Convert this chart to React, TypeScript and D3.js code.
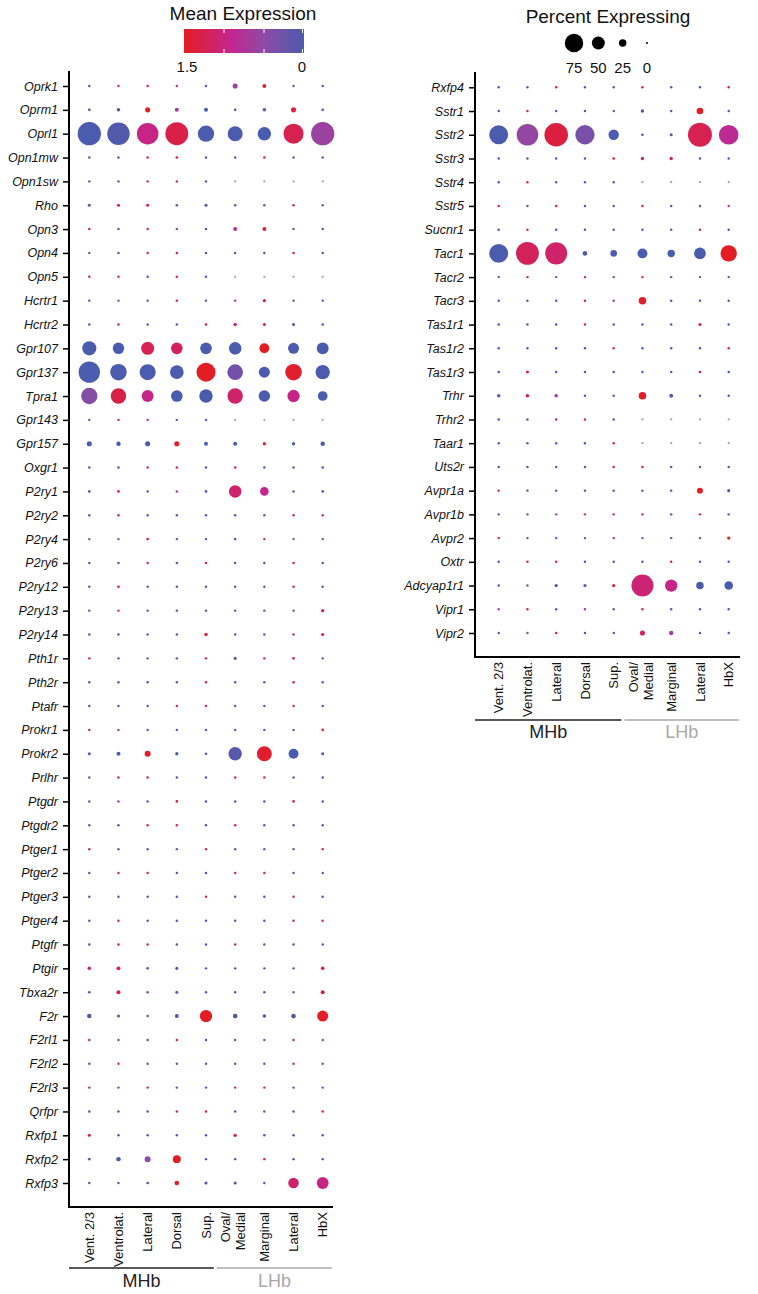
import React, { useEffect, useRef } from 'react';
import * as d3 from 'd3';

// clusters (columns), shared by both panels
const clusterIds = ['v23', 'vl', 'lat', 'dor', 'sup', 'om', 'mar', 'llat', 'hbx'];
const clusterLabels = ['Vent. 2/3', 'Ventrolat.', 'Lateral', 'Dorsal', 'Sup.', 'Oval/\nMedial', 'Marginal', 'Lateral', 'HbX'];
const groupNames = ['MHb', 'LHb'];
const groupColors = ['#222222', '#a8a8a8'];

const genesLeft = [
  'Oprk1', 'Oprm1', 'Oprl1', 'Opn1mw', 'Opn1sw', 'Rho', 'Opn3', 'Opn4', 'Opn5', 'Hcrtr1', 'Hcrtr2',
  'Gpr107', 'Gpr137', 'Tpra1', 'Gpr143', 'Gpr157', 'Oxgr1', 'P2ry1', 'P2ry2', 'P2ry4', 'P2ry6',
  'P2ry12', 'P2ry13', 'P2ry14', 'Pth1r', 'Pth2r', 'Ptafr', 'Prokr1', 'Prokr2', 'Prlhr', 'Ptgdr',
  'Ptgdr2', 'Ptger1', 'Ptger2', 'Ptger3', 'Ptger4', 'Ptgfr', 'Ptgir', 'Tbxa2r', 'F2r', 'F2rl1',
  'F2rl2', 'F2rl3', 'Qrfpr', 'Rxfp1', 'Rxfp2', 'Rxfp3',
];

// percent of cells expressing, one row per gene
const pctLeft = [
  [2, 2, 2, 2, 2, 14, 9, 2, 2],
  [3, 7, 14, 9, 9, 3, 7, 14, 3],
  [97, 93, 89, 95, 65, 59, 52, 82, 97],
  [2, 2, 2, 3, 2, 2, 2, 2, 2],
  [2, 2, 2, 2, 2, 1, 1, 1, 1],
  [5, 5, 5, 3, 5, 2, 2, 2, 2],
  [2, 2, 2, 2, 2, 9, 9, 2, 2],
  [2, 2, 2, 2, 2, 2, 2, 2, 2],
  [2, 2, 2, 2, 2, 1, 1, 1, 1],
  [2, 2, 2, 2, 2, 2, 5, 2, 2],
  [2, 2, 2, 2, 3, 7, 5, 5, 2],
  [55, 43, 50, 44, 44, 48, 36, 41, 45],
  [88, 66, 64, 53, 77, 62, 41, 66, 56],
  [65, 61, 45, 44, 52, 61, 43, 47, 35],
  [2, 2, 2, 2, 2, 1, 1, 1, 1],
  [14, 11, 14, 14, 9, 9, 6, 6, 11],
  [2, 2, 2, 2, 2, 2, 2, 2, 2],
  [3, 3, 2, 2, 3, 48, 30, 2, 3],
  [2, 2, 2, 2, 2, 2, 2, 2, 2],
  [2, 2, 3, 2, 2, 3, 2, 2, 2],
  [2, 2, 2, 2, 2, 2, 2, 2, 2],
  [2, 3, 2, 2, 2, 2, 2, 2, 2],
  [2, 2, 2, 2, 2, 2, 2, 2, 6],
  [2, 2, 2, 2, 7, 2, 2, 2, 5],
  [2, 2, 2, 2, 2, 5, 2, 3, 2],
  [2, 2, 2, 2, 2, 2, 2, 2, 2],
  [2, 2, 2, 2, 2, 2, 2, 2, 2],
  [2, 2, 2, 2, 2, 2, 2, 2, 3],
  [5, 9, 18, 6, 3, 52, 59, 36, 5],
  [2, 2, 2, 2, 2, 2, 2, 2, 2],
  [2, 2, 2, 3, 2, 2, 2, 3, 2],
  [2, 2, 2, 2, 2, 2, 2, 2, 2],
  [2, 2, 2, 2, 2, 2, 2, 2, 2],
  [2, 2, 2, 2, 2, 2, 2, 2, 2],
  [2, 2, 2, 2, 2, 2, 2, 2, 2],
  [2, 2, 2, 2, 2, 2, 2, 2, 2],
  [2, 2, 2, 2, 2, 2, 2, 2, 2],
  [7, 9, 3, 5, 2, 2, 2, 2, 7],
  [3, 9, 3, 5, 2, 2, 2, 2, 9],
  [11, 5, 2, 9, 47, 12, 7, 12, 41],
  [2, 2, 2, 2, 2, 2, 2, 2, 2],
  [2, 2, 2, 2, 2, 2, 2, 2, 2],
  [2, 2, 2, 2, 2, 2, 2, 2, 2],
  [2, 2, 2, 2, 2, 2, 2, 2, 2],
  [5, 2, 2, 2, 2, 6, 2, 2, 2],
  [3, 11, 18, 27, 2, 2, 2, 2, 2],
  [2, 2, 3, 12, 5, 5, 2, 39, 45],
];

// mean expression (null = not detected, drawn grey)
const exprLeft = [
  [0, 1.2, 1.4, 0.8, 0, 0.6, 1.4, 0, 0],
  [0, 0, 1.5, 0.7, 0, 0, 0.1, 1.4, 0],
  [0, 0.05, 0.95, 1.3, 0, 0, 0, 1.25, 0.6],
  [0, 0, 1.3, 1.4, 0, 0, 1.4, 0, 0],
  [0, 0, 1.3, 1.3, 0, null, null, null, null],
  [0.1, 1.4, 1.3, 0, 0, 0, 0, 1.4, 0.3],
  [1.4, 0, 1.3, 0.5, 0, 0.8, 1.4, 0, 0],
  [0.4, 0, 1.3, 1.4, 0, 0, 0, 1.4, 0],
  [1.3, 1.3, 0, 1.4, 0, null, null, null, null],
  [0, 0, 0, 1.4, 0, 0.6, 1.4, 0, 0],
  [0, 1.3, 0, 0, 1.4, 0.9, 1.3, 0, 0],
  [0, 0, 1.25, 1.2, 0, 0, 1.5, 0, 0],
  [0, 0, 0, 0, 1.5, 0.3, 0, 1.45, 0],
  [0.45, 1.3, 0.95, 0, 0, 1.1, 0, 0.95, 0],
  [0, 1.3, 1.0, 0, 0, null, null, null, null],
  [0, 0, 0, 1.5, 0, 0, 1.4, 0, 0],
  [0, 0, 1.3, 1.2, 0, 1.4, 0, 0, 0],
  [0, 1.4, 0, 0.6, 0, 1.1, 0.9, 0, 0],
  [0, 1.3, 0, 0, 0, 0, 0, 1.2, 1.0],
  [0.5, 0, 1.4, 0, 0, 0, 1.3, 0, 0],
  [0, 0, 1.2, 0, 1.3, 0, 0, 1.3, 0],
  [0, 1.4, 0, 0, 0, 0, 0, 1.3, 0],
  [0, 1.3, 0, 0, 0, 0, 0, 0, 1.3],
  [0, 0, 0, 0, 1.4, 0, 0, 0.95, 1.3],
  [1.3, 0, 0, 0, 1.3, 0, 1.0, 1.1, 0],
  [0, 0, 0, 0, 1.3, 0, 0, 1.3, 0],
  [0, 0, 0, 1.3, 1.0, 0, 0, 1.3, 0],
  [1.3, 0.6, 0, 0, 0, 0, 0, 0, 1.4],
  [0, 0, 1.5, 0, 0, 0.1, 1.45, 0, 0],
  [0, 1.3, 1.3, 0, 0, 1.3, 1.2, 0, 0],
  [0, 0.6, 0, 1.4, 0, 0, 0, 1.4, 0],
  [0, 0, 1.3, 1.3, 0, 1.4, 0, 0, 0],
  [1.3, 0, 0, 0, 1.4, 0, 0, 0, 1.3],
  [0, 1.3, 1.3, 0, 0, 1.1, 1.1, 0, 0],
  [0, 0, 0, 0, 1.4, 0, 0, 1.4, 0],
  [0, 1.3, 0, 0, 0, 0, 0, 1.0, 1.0],
  [0, 1.3, 1.3, 0, 0, 1.4, 0, 0, 0],
  [1.0, 1.2, 0, 0, 0, 0, 0, 0, 1.35],
  [0, 1.4, 0.5, 0.3, 0, 0, 0, 0.5, 1.35],
  [0, 0, 0, 0, 1.5, 0, 0, 0, 1.5],
  [1.4, 0, 0, 1.4, 0, 0, 0, 1.3, 0.6],
  [0, 1.3, 0, 0, 0, 0, 0, 1.3, 0.6],
  [1.3, 0, 1.3, 0, 0, 0.9, 1.3, 0, 0],
  [0, 0, 0, 1.0, 1.3, 0, 0, 0, 1.3],
  [1.4, 0, 0, 0, 0, 1.4, 0, 0, 0],
  [0, 0, 0.5, 1.5, 0, 0, 1.3, 0, 0],
  [0, 0, 0, 1.5, 0, 0, 0, 1.1, 0.95],
];

const genesRight = [
  'Rxfp4', 'Sstr1', 'Sstr2', 'Sstr3', 'Sstr4', 'Sstr5', 'Sucnr1', 'Tacr1', 'Tacr2', 'Tacr3',
  'Tas1r1', 'Tas1r2', 'Tas1r3', 'Trhr', 'Trhr2', 'Taar1', 'Uts2r', 'Avpr1a', 'Avpr1b', 'Avpr2',
  'Oxtr', 'Adcyap1r1', 'Vipr1', 'Vipr2',
];

const pctRight = [
  [2, 2, 2, 2, 2, 2, 2, 2, 2],
  [2, 2, 2, 2, 2, 7, 2, 21, 2],
  [77, 89, 98, 79, 38, 3, 5, 100, 80],
  [2, 2, 2, 2, 3, 6, 6, 2, 2],
  [2, 2, 2, 2, 2, 1, 1, 1, 1],
  [2, 2, 2, 2, 2, 2, 2, 2, 2],
  [2, 2, 2, 2, 2, 2, 2, 2, 2],
  [77, 95, 91, 12, 21, 36, 25, 44, 65],
  [2, 2, 2, 2, 2, 2, 2, 2, 2],
  [2, 2, 2, 2, 2, 25, 2, 2, 2],
  [2, 2, 2, 2, 2, 2, 2, 5, 2],
  [2, 2, 2, 2, 2, 2, 2, 2, 2],
  [3, 5, 2, 2, 2, 2, 2, 3, 2],
  [7, 7, 7, 2, 2, 25, 9, 2, 2],
  [2, 2, 2, 2, 2, 1, 1, 1, 1],
  [2, 2, 2, 2, 2, 1, 1, 1, 1],
  [2, 2, 2, 2, 2, 2, 2, 2, 2],
  [2, 2, 2, 2, 2, 2, 2, 18, 5],
  [2, 2, 2, 2, 2, 2, 2, 2, 2],
  [2, 2, 2, 2, 2, 2, 2, 2, 6],
  [2, 2, 2, 2, 2, 2, 2, 2, 2],
  [2, 2, 6, 5, 6, 91, 47, 25, 30],
  [2, 2, 2, 2, 2, 2, 2, 2, 2],
  [2, 2, 2, 2, 2, 14, 11, 2, 2],
];

const exprRight = [
  [0, 0, 1.4, 0, 0, 1.3, 0, 0, 1.3],
  [0, 1.3, 0, 0, 0, 0, 0, 1.5, 0],
  [0, 0.55, 1.35, 0.35, 0, 0, 0, 1.25, 0.85],
  [0, 0, 0, 0, 1.4, 1.0, 1.2, 0, 0],
  [0, 1.3, 0, 0, 0, null, null, null, null],
  [1.3, 0, 1.3, 0, 0, 1.3, 0, 0, 0.6],
  [0, 1.3, 0, 0, 0, 0, 0, 1.3, 0],
  [0, 1.2, 1.1, 0, 0, 0, 0, 0, 1.5],
  [0, 1.3, 0, 1.2, 0, 1.3, 0, 0, 0],
  [0, 0, 0, 1.3, 0.6, 1.5, 0, 0, 0],
  [0, 0, 0, 1.3, 0, 0, 0, 1.4, 0],
  [0, 0, 0, 0, 1.3, 0, 0, 0, 1.3],
  [0, 1.3, 0, 0, 0, 0, 0, 1.3, 0],
  [0.1, 1.3, 0.7, 0, 0, 1.5, 0.1, 0, 0],
  [0, 0, 1.2, 1.2, 0, null, null, null, null],
  [0, 0, 0, 0, 1.3, null, null, null, null],
  [0, 0, 0, 0, 1.3, 1.3, 0, 0, 0],
  [1.4, 0, 0, 0, 0, 0, 0, 1.5, 0],
  [0, 0.5, 0.6, 0.7, 1.0, 1.0, 0, 1.3, 0],
  [1.4, 0, 0, 0, 1.3, 0, 0, 0, 1.5],
  [0, 1.2, 1.3, 0, 0, 0, 1.3, 0, 0],
  [0, 0.6, 0, 0, 1.4, 1.05, 0.95, 0, 0],
  [0.6, 1.3, 0, 0.7, 0, 1.3, 0, 0, 0],
  [0, 0.6, 1.3, 0, 0, 1.2, 0.7, 0, 0],
];

const sizeLegend = [75, 50, 25, 0];
const colorLegendTicks = [1.5, 0];

const FONT = '"Liberation Sans", Arial, Helvetica, sans-serif';

const color = d3.scaleLinear<string>()
  .domain([0, 0.5, 0.9, 1.5])
  .range(['#4b5bad', '#8d4ba6', '#c3268f', '#e31d24'])
  .clamp(true);

const radius = d3.scaleLinear().domain([0, 100]).range([1, 12]).clamp(true);

interface Panel {
  genes: string[];
  pct: number[][];
  expr: (number | null)[][];
  axisX: number;
  top: number;
  bottom: number;
  right: number;
  cols: [number, number];
  rows: [number, number];
  bracketY: number;
  groupY: number;
}

const panels: Panel[] = [
  {
    genes: genesLeft, pct: pctLeft, expr: exprLeft,
    axisX: 69, top: 71, bottom: 1207, right: 333,
    cols: [89.3, 322.7], rows: [86, 1183], bracketY: 1268, groupY: 1287,
  },
  {
    genes: genesRight, pct: pctRight, expr: exprRight,
    axisX: 475, top: 72, bottom: 657, right: 740,
    cols: [498.7, 728.7], rows: [87.3, 633], bracketY: 720, groupY: 738,
  },
];

function drawPanel(svg: d3.Selection<SVGSVGElement, unknown, null, undefined>, p: Panel) {
  const x = d3.scalePoint<string>().domain(clusterIds).range(p.cols);
  const y = d3.scalePoint<string>().domain(p.genes).range(p.rows);
  const g = svg.append('g');

  // dots
  const cells = p.genes.flatMap((gene, i) =>
    clusterIds.map((c, j) => ({ gene, c, pct: p.pct[i][j], e: p.expr[i][j] })));
  g.selectAll('circle.dot')
    .data(cells)
    .enter()
    .append('circle')
    .attr('class', 'dot')
    .attr('cx', d => x(d.c) || 0)
    .attr('cy', d => y(d.gene) || 0)
    .attr('r', d => radius(d.pct))
    .attr('fill', d => (d.e === null ? '#a0a0ae' : color(d.e)));

  // y axis
  const yAxis = g.append('g')
    .attr('transform', `translate(${p.axisX},0)`)
    .call(d3.axisLeft(y).tickSize(6).tickSizeOuter(0).tickPadding(5));
  yAxis.select('.domain').remove();
  yAxis.selectAll('.tick line').attr('stroke', '#000').attr('stroke-width', 1.5);
  yAxis.selectAll('.tick text')
    .attr('font-family', FONT)
    .attr('font-size', 12.5)
    .attr('font-style', 'italic')
    .attr('fill', '#111');

  g.append('path')
    .attr('d', `M${p.axisX},${p.top}V${p.bottom}H${p.right}`)
    .attr('fill', 'none')
    .attr('stroke', '#000')
    .attr('stroke-width', 2);

  // column labels, rotated
  clusterIds.forEach((c, j) => {
    const lines = clusterLabels[j].split('\n');
    lines.forEach((line, k) => {
      const cx = (x(c) || 0) + (k - (lines.length - 1) / 2) * 15 - (lines.length > 1 ? 2 : 0);
      g.append('text')
        .attr('transform', `translate(${cx},${p.bottom + 5}) rotate(-90)`)
        .attr('text-anchor', 'end')
        .attr('dy', '0.35em')
        .attr('font-family', FONT)
        .attr('font-size', 13)
        .attr('fill', '#111')
        .text(line);
    });
  });

  // MHb / LHb brackets
  const step = x.step();
  const split = (x(clusterIds[4]) || 0) + step * 0.32;
  const spans: [number, number][] = [[p.axisX, split - 1.5], [split + 1.5, p.right - 1]];
  spans.forEach((s, i) => {
    g.append('line')
      .attr('x1', s[0]).attr('x2', s[1])
      .attr('y1', p.bracketY).attr('y2', p.bracketY)
      .attr('stroke', groupColors[i])
      .attr('stroke-width', 1.5);
    g.append('text')
      .attr('x', (s[0] + s[1]) / 2)
      .attr('y', p.groupY)
      .attr('text-anchor', 'middle')
      .attr('font-family', FONT)
      .attr('font-size', 18)
      .attr('fill', groupColors[i])
      .text(groupNames[i]);
  });
}

function drawLegends(svg: d3.Selection<SVGSVGElement, unknown, null, undefined>) {
  // colour bar
  const cx = d3.scaleLinear().domain([1.5, 0]).range([184, 304]);
  const defs = svg.append('defs');
  const grad = defs.append('linearGradient').attr('id', 'exprGrad')
    .attr('x1', '0%').attr('x2', '100%').attr('y1', '0%').attr('y2', '0%');
  d3.range(0, 1.0001, 0.05).forEach(t => {
    grad.append('stop')
      .attr('offset', `${t * 100}%`)
      .attr('stop-color', color(1.5 - 1.5 * t));
  });
  const lg = svg.append('g');
  lg.append('text')
    .attr('x', 243).attr('y', 20)
    .attr('text-anchor', 'middle')
    .attr('font-family', FONT).attr('font-size', 19).attr('fill', '#111')
    .text('Mean Expression');
  lg.append('rect')
    .attr('x', 184).attr('y', 29).attr('width', 120).attr('height', 24)
    .attr('fill', 'url(#exprGrad)');
  [1, 0.5, 0].forEach(v => {
    const xx = Math.min(cx(v), 302.5);
    lg.append('line').attr('x1', xx).attr('x2', xx).attr('y1', 29).attr('y2', 33)
      .attr('stroke', '#fff').attr('stroke-width', 1);
    lg.append('line').attr('x1', xx).attr('x2', xx).attr('y1', 49).attr('y2', 53)
      .attr('stroke', '#fff').attr('stroke-width', 1);
  });
  colorLegendTicks.forEach(v => {
    lg.append('text')
      .attr('x', v === 0 ? cx(v) - 2 : cx(v) + 3).attr('y', 72)
      .attr('text-anchor', 'middle')
      .attr('font-family', FONT).attr('font-size', 15).attr('fill', '#111')
      .text(String(v));
  });

  // size legend
  const sx = d3.scalePoint<number>().domain(sizeLegend).range([574, 647]);
  const sg = svg.append('g');
  sg.append('text')
    .attr('x', 608).attr('y', 23)
    .attr('text-anchor', 'middle')
    .attr('font-family', FONT).attr('font-size', 19).attr('fill', '#111')
    .text('Percent Expressing');
  sg.selectAll('circle')
    .data(sizeLegend)
    .enter()
    .append('circle')
    .attr('cx', d => sx(d) || 0)
    .attr('cy', 43)
    .attr('r', d => radius(d))
    .attr('fill', '#000');
  sg.selectAll('text.lab')
    .data(sizeLegend)
    .enter()
    .append('text')
    .attr('class', 'lab')
    .attr('x', d => sx(d) || 0)
    .attr('y', 73)
    .attr('text-anchor', 'middle')
    .attr('font-family', FONT).attr('font-size', 15).attr('fill', '#111')
    .text(d => String(d));
}

const App: React.FC = () => {
  const svgRef = useRef<SVGSVGElement>(null);

  useEffect(() => {
    const svg = d3.select(svgRef.current as SVGSVGElement);
    svg.selectAll('*').remove();
    svg.append('rect').attr('width', 758).attr('height', 1294).attr('fill', '#fff');
    panels.forEach(p => drawPanel(svg, p));
    drawLegends(svg);
  }, []);

  return (
    <svg
      ref={svgRef}
      width={758}
      height={1294}
      style={{ position: 'absolute', left: 0, top: 0, display: 'block' }}
    />
  );
};

export default App;
